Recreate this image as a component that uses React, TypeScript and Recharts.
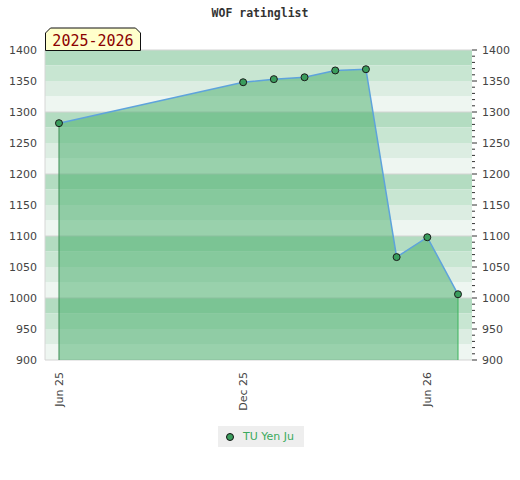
import {
  Area,
  ComposedChart,
  Line,
  ReferenceArea,
  ReferenceLine,
  XAxis,
  YAxis,
} from "recharts";

// month index counted from Jun 2025
const months = [0, 6, 7, 8, 9, 10, 11, 12, 13];
const ratings = [1282, 1348, 1353, 1356, 1367, 1369, 1066, 1098, 1006];

const xTicks = [0, 6, 12];
const xTickLabels = ["Jun 25", "Dec 25", "Jun 26"];

const yTicks = [900, 950, 1000, 1050, 1100, 1150, 1200, 1250, 1300, 1350, 1400];
const gridLevels = [900, 1000, 1100, 1200, 1300, 1400];
const bandEdges = [1400, 1375, 1350, 1325, 1300, 1275, 1250, 1225, 1200, 1175, 1150, 1125, 1100, 1075, 1050, 1025, 1000, 975, 950, 925, 900];
const bandColors = ["#b3dcc1", "#c8e6d2", "#dcede2", "#eef6f1"];

const playerName = "TU Yen Ju";
const seasonLabel = "2025-2026";

const data = months.map((m, i) => ({ m, rating: ratings[i] }));

// minor ticks on the right axis, every 10 points between the labelled ones
const rightTicks: number[] = [];
yTicks.forEach((t, i) => {
  rightTicks.push(t);
  if (i < yTicks.length - 1) for (let k = 1; k < 5; k++) rightTicks.push(t + k * 10);
});

const XTick = ({ x, y, payload }: any) => {
  const idx = xTicks.indexOf(payload.value);
  return (
    <text
      transform={`translate(${x},${y + 12}) rotate(-90)`}
      textAnchor="end"
      dy={4}
      fontSize={11}
      fontFamily="DejaVu Sans"
      fill="#444"
    >
      {idx >= 0 ? xTickLabels[idx] : ""}
    </text>
  );
};

const RightTick = ({ x, y, payload }: any) => {
  const major = payload.value % 50 === 0;
  return (
    <g>
      <line x1={x} x2={x + (major ? 5 : 3)} y1={y} y2={y} stroke="#333" strokeWidth={1} />
      {major && (
        <text x={x + 10} y={y} dy={4} fontSize={11} fontFamily="DejaVu Sans" fill="#444">
          {payload.value}
        </text>
      )}
    </g>
  );
};

export default function App() {
  const last = data.length - 1;
  return (
    <div style={{ position: "absolute", left: 0, top: 0, width: 520, height: 480, background: "#fff" }}>
      <ComposedChart width={520} height={480} data={data} margin={{ top: 50, right: 0, bottom: 60, left: 0 }}>
        <XAxis
          dataKey="m"
          type="number"
          domain={[-0.456, 13.456]}
          ticks={xTicks}
          tick={<XTick />}
          tickLine={false}
          axisLine={false}
          tickSize={0}
          tickMargin={0}
          height={60}
          allowDataOverflow
        />
        <YAxis
          yAxisId="left"
          domain={[900, 1400]}
          ticks={yTicks}
          width={45}
          tickLine={false}
          tickSize={0}
          tickMargin={8}
          axisLine={{ stroke: "#d6d6d6" }}
          tick={{ fontSize: 11, fontFamily: "DejaVu Sans", fill: "#444" }}
          allowDataOverflow
        />
        <YAxis
          yAxisId="right"
          orientation="right"
          domain={[900, 1400]}
          ticks={rightTicks}
          interval={0}
          width={48}
          tickLine={false}
          tickSize={0}
          tickMargin={0}
          axisLine={false}
          tick={<RightTick />}
          allowDataOverflow
        />
        {bandEdges.slice(0, -1).map((top, i) => (
          <ReferenceArea
            key={top}
            yAxisId="left"
            y1={bandEdges[i + 1]}
            y2={top}
            fill={bandColors[i % 4]}
            fillOpacity={1}
            stroke="none"
          />
        ))}
        {/* thin areas so the grid sits under the filled rating area */}
        {gridLevels.map((v) => (
          <ReferenceArea
            key={"g" + v}
            yAxisId="left"
            y1={v - 1}
            y2={v + 1}
            fill="#d4d4d4"
            fillOpacity={1}
            stroke="none"
            ifOverflow="visible"
          />
        ))}
        <Area
          yAxisId="left"
          dataKey="rating"
          type="linear"
          fill="#44ac68"
          fillOpacity={0.5}
          stroke="none"
          baseValue={900}
          isAnimationActive={false}
        />
        <ReferenceLine
          yAxisId="left"
          segment={[
            { x: data[0].m, y: 900 },
            { x: data[0].m, y: data[0].rating },
          ]}
          stroke="#3f8f57"
          strokeWidth={1}
        />
        <ReferenceLine
          yAxisId="left"
          segment={[
            { x: data[last].m, y: 900 },
            { x: data[last].m, y: data[last].rating },
          ]}
          stroke="#3cb35c"
          strokeWidth={1}
        />
        <Line
          yAxisId="left"
          dataKey="rating"
          type="linear"
          stroke="#5ea3dc"
          strokeWidth={1.5}
          dot={{ r: 3.5, fill: "#3a9d5d", stroke: "#1a1a1a", strokeWidth: 1 }}
          activeDot={false}
          isAnimationActive={false}
        />
      </ComposedChart>

      <svg width={520} height={52} style={{ position: "absolute", left: 0, top: 0, pointerEvents: "none" }}>
        <text
          x={260}
          y={17}
          textAnchor="middle"
          fontSize={11.5}
          fontWeight="bold"
          fontFamily="DejaVu Sans Mono"
          fill="#333"
        >
          WOF ratinglist
        </text>
        <polygon
          points="45.5,50.5 45.5,33 50.5,28 135.5,28 140.5,33 140.5,50.5"
          fill="#ffffcc"
          stroke="#111"
          strokeWidth={1}
        />
        <text x={93} y={45.5} textAnchor="middle" fontSize={15} fontFamily="DejaVu Sans Mono" fill="#8b0000">
          {seasonLabel}
        </text>
      </svg>

      <div
        style={{
          position: "absolute",
          left: 218,
          top: 426,
          width: 86,
          height: 21,
          background: "#eeeeee",
          display: "flex",
          alignItems: "center",
          fontFamily: "DejaVu Sans",
          fontSize: 11,
          color: "#3aaa5c",
        }}
      >
        <span
          style={{
            display: "inline-block",
            width: 6,
            height: 6,
            borderRadius: "50%",
            background: "#3a9d5d",
            border: "1px solid #111",
            marginLeft: 8,
            marginRight: 9,
          }}
        />
        {playerName}
      </div>
    </div>
  );
}
